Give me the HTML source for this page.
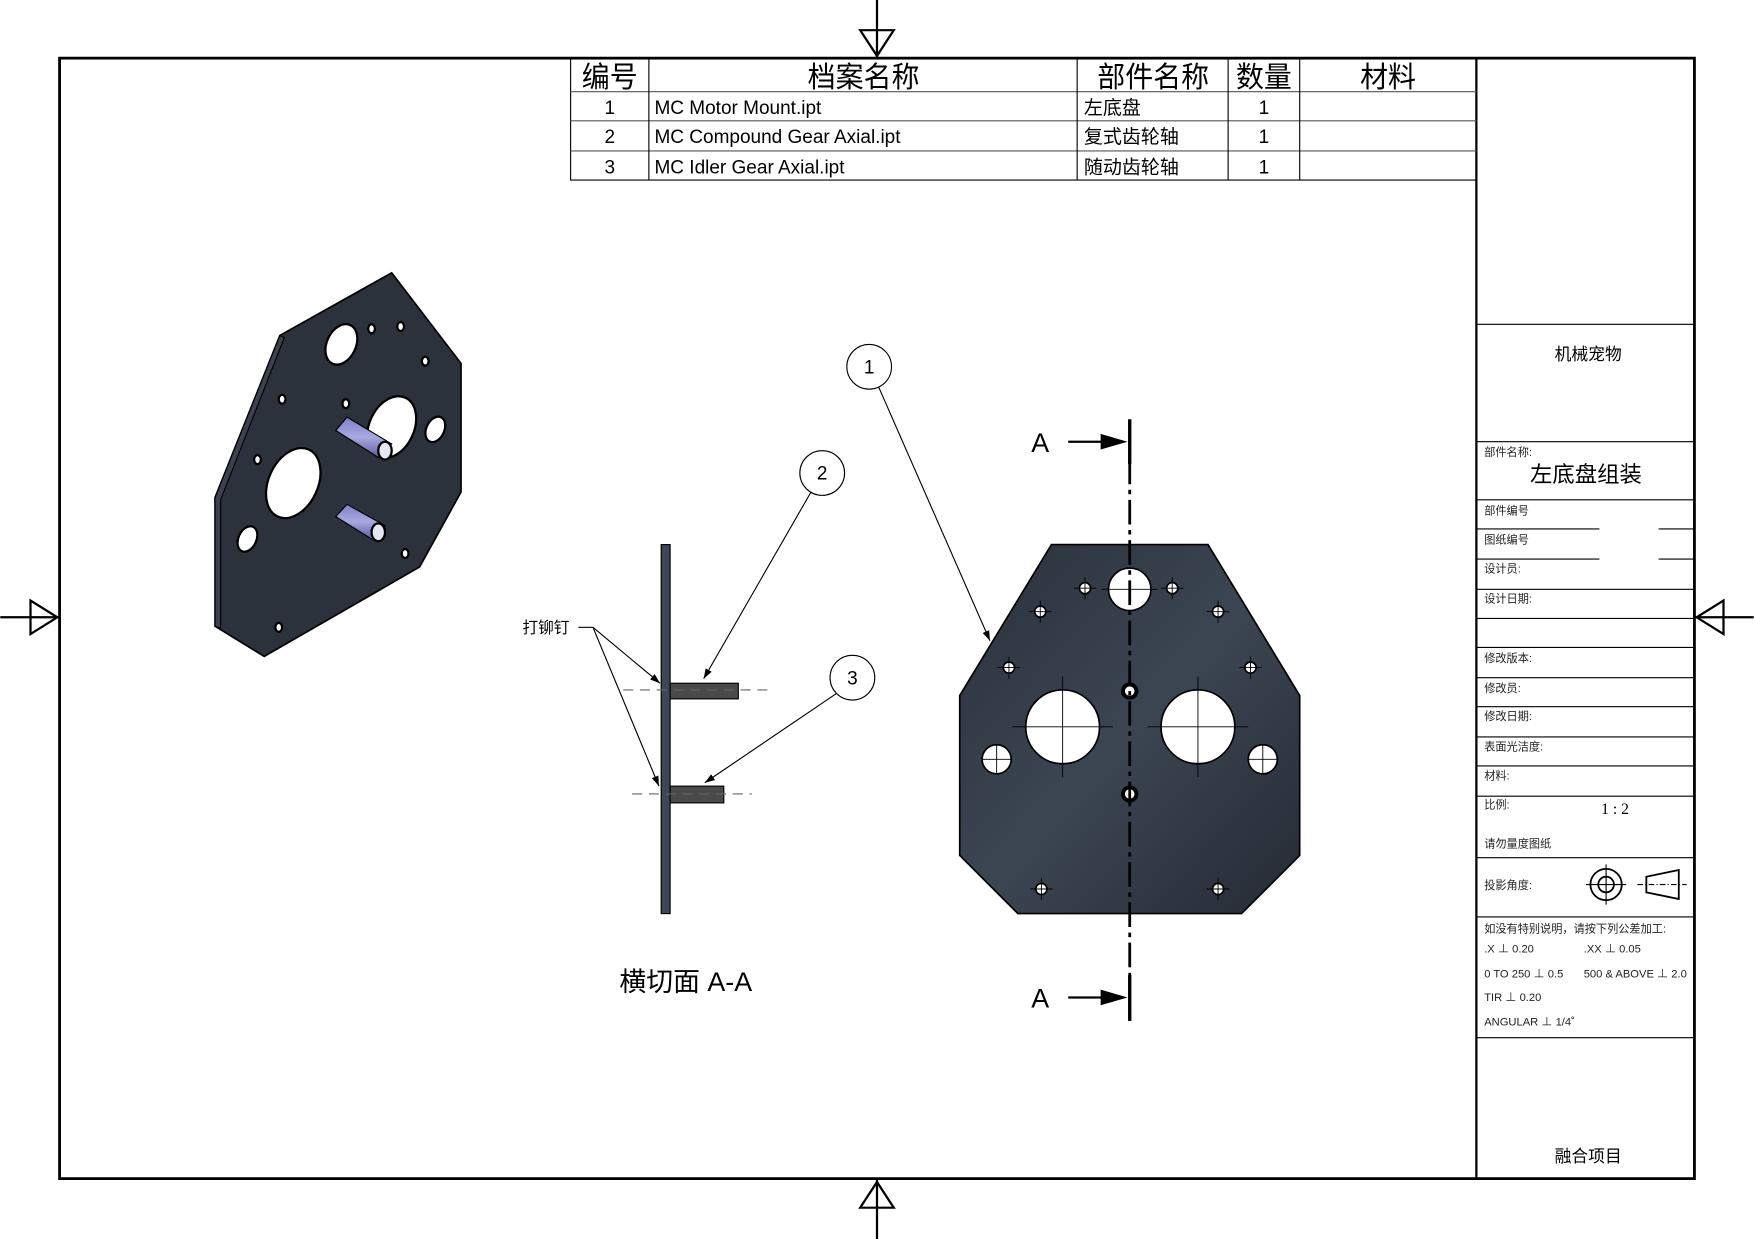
<!DOCTYPE html>
<html><head><meta charset="utf-8"><style>html,body{margin:0;padding:0;background:#fff}svg{display:block}</style></head>
<body>
<svg width="1754" height="1239" viewBox="0 0 1568 1108" xmlns="http://www.w3.org/2000/svg" font-family="'Liberation Sans','Noto Sans CJK SC',sans-serif">
<defs>
<linearGradient id="pg" x1="0" y1="0" x2="1" y2="1"><stop offset="0" stop-color="#2a313b"/><stop offset="0.5" stop-color="#3c4552"/><stop offset="1" stop-color="#252b34"/></linearGradient>
<linearGradient id="pin" x1="0" y1="0" x2="0" y2="1"><stop offset="0" stop-color="#7f80c8"/><stop offset="0.5" stop-color="#a8a9e0"/><stop offset="1" stop-color="#5d5ea0"/></linearGradient>
<marker id="ar" viewBox="0 0 10 10" refX="10" refY="5" markerWidth="9" markerHeight="9" orient="auto-start-reverse" markerUnits="userSpaceOnUse"><path d="M0,1.5 L10,5 L0,8.5z" fill="#000"/></marker>
</defs>
<rect x="53" y="52" width="1462" height="1002" fill="none" stroke="#000" stroke-width="2.5"/>
<line x1="1320" y1="52" x2="1320" y2="1054" stroke="#000" stroke-width="2"/>
<g stroke="#000" stroke-width="2" fill="none">
<line x1="784" y1="0" x2="784" y2="52"/><path d="M769,27 L799,27 L784,50z"/>
<line x1="784" y1="1054" x2="784" y2="1108"/><path d="M769,1080 L799,1080 L784,1057z"/>
<line x1="0" y1="552" x2="53" y2="552"/><path d="M27,537 L27,567 L51,552z"/>
<line x1="1515" y1="552" x2="1568" y2="552"/><path d="M1541,537 L1541,567 L1517,552z"/>
</g>
<g stroke="#000" stroke-width="1" fill="none">
<rect x="510" y="52" width="810" height="109"/>
<line x1="510" y1="82" x2="1320" y2="82" stroke="#555"/>
<line x1="510" y1="108" x2="1320" y2="108" stroke="#555"/>
<line x1="510" y1="135" x2="1320" y2="135" stroke="#555"/>
<line x1="580" y1="52" x2="580" y2="161"/><line x1="963" y1="52" x2="963" y2="161"/>
<line x1="1098" y1="52" x2="1098" y2="161"/><line x1="1162" y1="52" x2="1162" y2="161"/>
</g>
<g font-size="26" text-anchor="middle" fill="#000">
<text x="545" y="78" textLength="50" lengthAdjust="spacingAndGlyphs">编号</text>
<text x="772" y="78" textLength="100" lengthAdjust="spacingAndGlyphs">档案名称</text>
<text x="1031" y="78" textLength="100" lengthAdjust="spacingAndGlyphs">部件名称</text>
<text x="1130" y="78" textLength="50" lengthAdjust="spacingAndGlyphs">数量</text>
<text x="1241" y="78" textLength="50" lengthAdjust="spacingAndGlyphs">材料</text>
</g>
<g font-size="17" fill="#000">
<text x="545" y="102" text-anchor="middle">1</text><text x="545" y="128" text-anchor="middle">2</text><text x="545" y="155" text-anchor="middle">3</text>
<text x="585" y="102">MC Motor Mount.ipt</text><text x="585" y="128">MC Compound Gear Axial.ipt</text><text x="585" y="155">MC Idler Gear Axial.ipt</text>
<text x="969" y="102">左底盘</text><text x="969" y="128">复式齿轮轴</text><text x="969" y="155">随动齿轮轴</text>
<text x="1130" y="102" text-anchor="middle">1</text><text x="1130" y="128" text-anchor="middle">1</text><text x="1130" y="155" text-anchor="middle">1</text>
</g>
<g stroke="#000" stroke-width="1">
<line x1="1320" y1="290" x2="1515" y2="290"/><line x1="1320" y1="395" x2="1515" y2="395"/>
<line x1="1320" y1="447" x2="1515" y2="447"/>
<line x1="1320" y1="473" x2="1430" y2="473"/><line x1="1483" y1="473" x2="1515" y2="473"/>
<line x1="1320" y1="500" x2="1430" y2="500"/><line x1="1483" y1="500" x2="1515" y2="500"/>
<line x1="1320" y1="527" x2="1515" y2="527"/><line x1="1320" y1="553" x2="1515" y2="553"/>
<line x1="1320" y1="579" x2="1515" y2="579"/><line x1="1320" y1="606" x2="1515" y2="606"/>
<line x1="1320" y1="632" x2="1515" y2="632"/><line x1="1320" y1="659" x2="1515" y2="659"/>
<line x1="1320" y1="685" x2="1515" y2="685"/><line x1="1320" y1="712" x2="1515" y2="712"/>
<line x1="1320" y1="767" x2="1515" y2="767"/><line x1="1320" y1="820" x2="1515" y2="820"/>
<line x1="1320" y1="928" x2="1515" y2="928"/>
</g>
<g font-size="10" fill="#222">
<text x="1327" y="408">部件名称:</text><text x="1327" y="460">部件编号</text><text x="1327" y="486">图纸编号</text>
<text x="1327" y="512">设计员:</text><text x="1327" y="539">设计日期:</text><text x="1327" y="592">修改版本:</text>
<text x="1327" y="619">修改员:</text><text x="1327" y="644">修改日期:</text><text x="1327" y="671">表面光洁度:</text>
<text x="1327" y="697">材料:</text><text x="1327" y="723">比例:</text><text x="1327" y="758">请勿量度图纸</text>
<text x="1327" y="795">投影角度:</text><text x="1327" y="834">如没有特别说明，请按下列公差加工:</text>
<text x="1327" y="852">.X ⊥ 0.20</text><text x="1416" y="852">.XX ⊥ 0.05</text>
<text x="1327" y="874">0 TO 250 ⊥ 0.5</text><text x="1416" y="874">500 &amp; ABOVE ⊥ 2.0</text>
<text x="1327" y="895">TIR ⊥ 0.20</text><text x="1327" y="917">ANGULAR ⊥ 1/4˚</text>
</g>
<text x="1420" y="322" font-size="15" text-anchor="middle">机械宠物</text>
<text x="1418" y="431" font-size="20" text-anchor="middle">左底盘组装</text>
<text x="1444" y="728" font-size="14" text-anchor="middle" font-family="'Liberation Serif',serif">1 : 2</text>
<text x="1420" y="1039" font-size="15" text-anchor="middle">融合项目</text>
<g stroke="#000" fill="none" stroke-width="1.6">
<circle cx="1436" cy="791" r="14"/><circle cx="1436" cy="791" r="7"/>
<line x1="1418" y1="791" x2="1454" y2="791" stroke-width="1"/><line x1="1436" y1="773" x2="1436" y2="809" stroke-width="1"/>
<path d="M1472,784 L1501,778 L1501,804 L1472,798z"/><line x1="1464" y1="791" x2="1508" y2="791" stroke-width="1" stroke-dasharray="5,2,1,2"/>
</g>
<path d="M192,445 L250,300 L350,244 L412,325 L412,440 L375,507 L236,587 L192,560z" fill="#2b323c" stroke="#000" stroke-width="1.5"/>
<path d="M192,445 L250,300 L254,302 L197,447 L197,562 L192,560z" fill="#3a424d" stroke="#000" stroke-width="1"/>
<g fill="#fff" stroke="#000" stroke-width="2">
<ellipse cx="305" cy="308" rx="13" ry="19" transform="rotate(25 305 308)"/>
<ellipse cx="350" cy="382" rx="20" ry="29" transform="rotate(25 350 382)"/>
<ellipse cx="262" cy="432" rx="22" ry="33" transform="rotate(25 262 432)"/>
<ellipse cx="389" cy="384" rx="8" ry="12" transform="rotate(25 389 384)"/>
<ellipse cx="221" cy="482" rx="8" ry="12" transform="rotate(25 221 482)"/>
<ellipse cx="332" cy="294" rx="3" ry="4"/><ellipse cx="358" cy="292" rx="3" ry="4"/><ellipse cx="380" cy="323" rx="3" ry="4"/>
<ellipse cx="252" cy="357" rx="3" ry="4"/><ellipse cx="230" cy="411" rx="3" ry="4"/>
<ellipse cx="362" cy="495" rx="3" ry="4"/><ellipse cx="249" cy="561" rx="3" ry="4"/><ellipse cx="309" cy="361" rx="3" ry="4"/>
</g>
<g stroke="#000" stroke-width="1">
<path d="M300,385 L338,409 L350,397 L310,373z" fill="url(#pin)"/>
<ellipse cx="344" cy="403" rx="6" ry="8" fill="#e6e6f5" stroke-width="2"/>
<path d="M300,462 L332,482 L344,470 L310,451z" fill="url(#pin)"/>
<ellipse cx="338" cy="476" rx="6" ry="8" fill="#e6e6f5" stroke-width="2"/>
</g>
<rect x="591" y="487" width="8" height="330" fill="#3d4757" stroke="#000"/>
<rect x="599" y="611" width="61" height="14" fill="#4a4a4a" stroke="#000"/>
<rect x="599" y="703" width="48" height="15" fill="#4a4a4a" stroke="#000"/>
<g stroke="#666" stroke-dasharray="9,6" stroke-width="1">
<line x1="557" y1="617" x2="690" y2="617"/><line x1="565" y1="710" x2="672" y2="710"/>
</g>
<text x="467" y="566" font-size="14">打铆钉</text>
<g stroke="#000" stroke-width="1" fill="none">
<line x1="517" y1="561" x2="530" y2="561"/>
<line x1="530" y1="561" x2="590" y2="611" marker-end="url(#ar)"/>
<line x1="530" y1="561" x2="589" y2="703" marker-end="url(#ar)"/>
<line x1="725" y1="440" x2="629" y2="607" marker-end="url(#ar)"/>
<line x1="748" y1="620" x2="630" y2="700" marker-end="url(#ar)"/>
<line x1="785" y1="345" x2="885" y2="573" marker-end="url(#ar)"/>
<circle cx="735" cy="423" r="20" fill="#fff"/><circle cx="762" cy="606" r="20" fill="#fff"/><circle cx="777" cy="328" r="20" fill="#fff"/>
</g>
<g font-size="17" text-anchor="middle"><text x="735" y="429">2</text><text x="762" y="612">3</text><text x="777" y="334">1</text></g>
<text x="613" y="886" font-size="24" text-anchor="middle">横切面 A-A</text>
<path d="M940,487 L1080,487 L1162,622 L1162,765 L1110,817 L910,817 L858,765 L858,622z" fill="url(#pg)" stroke="#000" stroke-width="1.5"/>
<g fill="#fff" stroke="#000" stroke-width="1.5">
<circle cx="950" cy="650" r="33"/><circle cx="1071" cy="650" r="33"/><circle cx="1010" cy="527" r="19"/>
<circle cx="891" cy="679" r="13"/><circle cx="1129" cy="679" r="13"/>
<circle cx="970" cy="526" r="5"/><circle cx="1048" cy="526" r="5"/><circle cx="930" cy="547" r="5"/><circle cx="1089" cy="547" r="5"/>
<circle cx="902" cy="597" r="5"/><circle cx="1118" cy="597" r="5"/><circle cx="931" cy="795" r="5"/><circle cx="1089" cy="795" r="5"/>
</g>
<g stroke="#000" stroke-width="0.8">
<path d="M905,650 H995 M950,605 V695 M1026,650 H1116 M1071,605 V695 M878,679 H904 M891,666 V692 M1116,679 H1142 M1129,666 V692 M985,527 H1035"/>
<path d="M960,526 H980 M970,516 V536 M1038,526 H1058 M1048,516 V536 M920,547 H940 M930,537 V557 M1079,547 H1099 M1089,537 V557 M892,597 H912 M902,587 V607 M1108,597 H1128 M1118,587 V607 M921,795 H941 M931,785 V805 M1079,795 H1099 M1089,785 V805"/>
</g>
<g fill="#fff" stroke="#000" stroke-width="3.5"><circle cx="1010" cy="618" r="6"/><circle cx="1010" cy="710" r="6"/></g>
<line x1="1010" y1="375" x2="1010" y2="913" stroke="#000" stroke-width="2.5" stroke-dasharray="22,5,4,5"/>
<line x1="1010" y1="375" x2="1010" y2="415" stroke="#000" stroke-width="3"/>
<line x1="1010" y1="872" x2="1010" y2="913" stroke="#000" stroke-width="3"/>
<g stroke="#000" stroke-width="2"><line x1="955" y1="395" x2="1000" y2="395"/><line x1="955" y1="892" x2="1000" y2="892"/></g>
<path d="M984,388 L1008,395 L984,402z M984,885 L1008,892 L984,899z" fill="#000"/>
<g font-size="24" text-anchor="middle"><text x="930" y="404">A</text><text x="930" y="901">A</text></g>
</svg>
</body></html>
